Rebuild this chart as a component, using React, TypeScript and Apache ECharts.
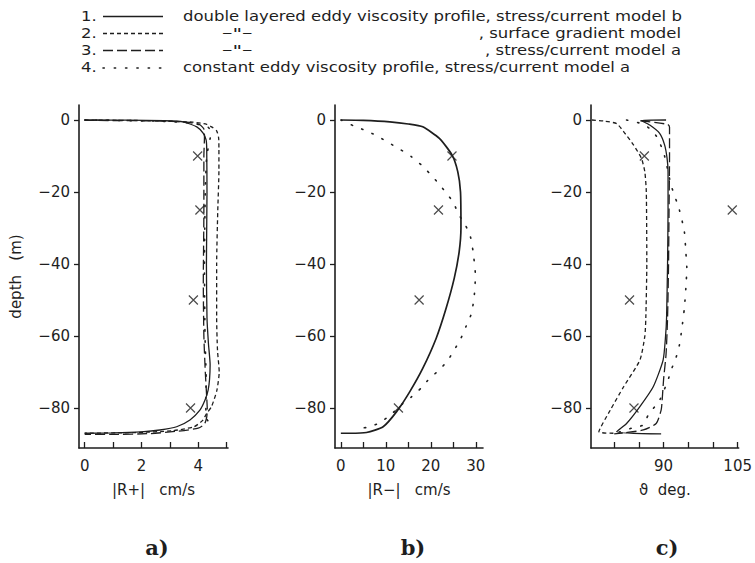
import React, { useEffect, useRef } from "react";
import * as echarts from "echarts";

// ---- observations (crosses) ----
const obsDepth = [-10, -25, -50, -80];
const obsA = [3.98, 4.06, 3.83, 3.73];
const obsB = [24.7, 21.7, 17.4, 12.8];
const obsC = [86.1, 103.9, 83.1, 84.0];

// ---- panel a: |R+| (cm/s), depth (m) ----
const a1 = [[0,0],[1.5,-0.05],[2.8,-0.2],[3.47,-0.5],[3.95,-1.9],[4.18,-3.7],[4.28,-5.6],[4.3,-8],[4.31,-20],[4.29,-40],[4.31,-55],[4.36,-62],[4.42,-68],[4.4,-72],[4.35,-75],[4.24,-77.8],[4.06,-80.6],[3.71,-83.3],[3.24,-85.2],[2.65,-86.1],[2.0,-86.6],[1.0,-86.9],[0,-87]];
const a2 = [[0,0],[2.5,-0.2],[3.8,-0.6],[4.3,-1.2],[4.47,-1.9],[4.65,-3],[4.72,-5],[4.73,-8],[4.73,-14],[4.69,-25],[4.65,-40],[4.65,-55],[4.68,-64],[4.74,-70],[4.66,-75],[4.47,-79.6],[4.3,-81.5],[4.15,-83.5],[3.85,-85.2],[3.1,-86.3],[1.8,-86.8],[0,-87]];
const a3 = [[0,-0.1],[2.5,-0.25],[3.6,-0.6],[4.05,-1.3],[4.2,-2.5],[4.22,-5],[4.2,-10],[4.2,-25],[4.18,-45],[4.2,-60],[4.25,-70],[4.3,-77],[4.32,-80.5],[4.3,-82.5],[4.22,-84.5],[4.0,-85.6],[3.3,-86.4],[2.3,-87.1],[1.0,-87.3],[0,-87.3]];
const a4 = [[0,0],[2.5,-0.3],[3.8,-0.9],[4.35,-2],[4.45,-3.5],[4.4,-6],[4.3,-10],[4.25,-20],[4.22,-40],[4.24,-60],[4.28,-72],[4.27,-80],[4.3,-83],[4.47,-84.7],[4.6,-85.4]];

// ---- panel b: |R-| (cm/s), depth (m) ----
const b1 = [[0,0],[5,-0.1],[10.9,-0.5],[15,-1.1],[18.2,-1.9],[21.9,-5.1],[24.7,-9.7],[26,-14.4],[26.6,-20],[26.7,-30],[26.3,-36.6],[25.2,-44],[23.4,-52.3],[21.2,-60.6],[18.2,-69],[15.3,-75.5],[12.4,-81],[9.4,-85.2],[5.7,-86.8],[2,-87],[0,-87]];
const b4 = [[0,0],[2.8,-1.6],[5.7,-3],[8.3,-4.6],[10.9,-6.5],[13.1,-8.1],[15.7,-10.2],[17.9,-12.5],[19.7,-14.8],[21.5,-17.3],[23.4,-20.2],[24.9,-22.7],[26.3,-26.4],[27.7,-29.2],[28.8,-32.4],[29.4,-36.6],[29.9,-43],[29.8,-46.8],[29.5,-50.5],[28.9,-54.2],[27.8,-57.4],[26.7,-60.6],[25.2,-63.9],[23.8,-66.7],[21.9,-69.4],[19.7,-71.8],[17.9,-74.4],[15.7,-76.9],[13.5,-79],[10.9,-82.1],[8.3,-84.3],[5.7,-85.4],[3.5,-85.7]];

// ---- panel c: theta (deg), depth (m) ----
const c1 = [[90.5,0],[85.5,-0.15],[87.2,-1.4],[89.2,-3.7],[90.2,-6.9],[90.7,-10.6],[90.9,-14.4],[90.9,-25],[90.8,-40],[90.6,-55],[90.4,-60],[89.9,-66.7],[87.9,-74.1],[85.2,-79.6],[82.5,-84.3],[80.5,-86.6],[89.5,-87.2]];
const c2 = [[75.5,0],[78,-0.3],[80.5,-1],[81.9,-3.2],[83.9,-6.9],[85.5,-10.6],[86.2,-14.4],[86.5,-20],[86.6,-40],[86.4,-55],[86.2,-60],[85.2,-66.7],[81.9,-74.1],[79.2,-80.6],[76.9,-86.6],[80,-87]];
const c3 = [[85.3,-0.2],[90.8,-1.2],[91.2,-2],[91.2,-10],[91.1,-25],[91.0,-40],[90.8,-55],[90.5,-65],[90.0,-72],[89.7,-78],[89.5,-80.6],[88.5,-84.3],[85.9,-86.1],[81.9,-86.9],[80,-87.2]];
const c4 = [[82.5,0],[86,-1.2],[87.5,-2.8],[88.8,-5],[90.2,-10],[91.5,-18],[93.2,-25],[94.2,-31],[94.5,-36.6],[94.7,-41.2],[94.5,-46.8],[94.2,-52.3],[93.7,-57.9],[93.2,-62.5],[92.4,-66.5],[91.5,-69.5],[90.9,-72.2],[89.2,-77.8],[86.9,-81.9],[85.9,-84.7],[83.5,-85.6],[81.2,-86.6],[79.2,-86.9]];

// ---- axes ----
const depthTicks = [0, -20, -40, -60, -80];
const ticksA = [0, 1, 2, 3, 4, 5];
const labelsA = [0, 2, 4];
const ticksB = [0, 5, 10, 15, 20, 25, 30];
const labelsB = [0, 10, 20, 30];
const ticksC = [80, 85, 90, 95, 100, 105];
const labelsC = [90, 105];
const xNames = ["|R+|   cm/s", "|R−|   cm/s", "ϑ  deg."];
const yName = "depth   (m)";
const panelTags = ["a)", "b)", "c)"];

const legendNums = ["1.", "2.", "3.", "4."];
const legendLeft = ["double layered eddy viscosity profile, stress/current model b", "–\"–", "–\"–", "constant eddy viscosity profile, stress/current model a"];
const legendRight = ["", ", surface gradient model", ", stress/current model a", ""];

const INK = "#1e1e1e";
const FONT = "DejaVu Sans";
const DASH: Record<string, any> = {
  solid: "solid",
  short: [4, 3],
  long: [10, 4],
  dot: [1.3, 10],
};

export default function App() {
  const ref = useRef<HTMLDivElement>(null);
  useEffect(() => {
    if (!ref.current) return;
    const chart = echarts.init(ref.current, null, { renderer: "svg" });
    const grids = [
      { left: 79, top: 105, width: 149, height: 343 },
      { left: 335, top: 105, width: 148, height: 343 },
      { left: 591, top: 105, width: 149, height: 343 },
    ];
    const xr = [
      { min: -0.2, max: 5.05, ticks: ticksA, labels: labelsA },
      { min: -1.3, max: 31.6, ticks: ticksB, labels: labelsB },
      { min: 75.3, max: 105.2, ticks: ticksC, labels: labelsC },
    ];
    const fmt = (v: number) => (v < 0 ? "−" + Math.abs(v) : String(v));
    const xAxis = xr.map((r, i) => ({
      type: "value",
      gridIndex: i,
      min: r.min,
      max: r.max,
      name: xNames[i],
      nameLocation: "middle",
      nameGap: 34,
      nameTextStyle: { fontFamily: FONT, fontSize: 15, color: INK },
      axisLine: { show: true, onZero: false, lineStyle: { color: INK, width: 1.6 } },
      axisTick: { show: true, inside: true, length: 6, customValues: r.ticks, lineStyle: { color: INK, width: 1.3 } },
      axisLabel: { customValues: r.labels, formatter: fmt, fontFamily: FONT, fontSize: 15, color: INK, margin: 10 },
      splitLine: { show: false },
    }));
    const yAxis = [0, 1, 2].map((i) => ({
      type: "value",
      gridIndex: i,
      min: -91.1,
      max: 4.17,
      name: i === 0 ? yName : "",
      nameLocation: "middle",
      nameRotate: 90,
      nameGap: 56,
      nameTextStyle: { fontFamily: FONT, fontSize: 15, color: INK },
      axisLine: { show: true, onZero: false, lineStyle: { color: INK, width: 1.6 } },
      axisTick: { show: true, inside: false, length: 5, customValues: depthTicks, lineStyle: { color: INK, width: 1.3 } },
      axisLabel: { customValues: depthTicks, formatter: fmt, fontFamily: FONT, fontSize: 15, color: INK, margin: 9 },
      splitLine: { show: false },
    }));
    const line = (i: number, data: number[][], kind: string, w = 1.3) => ({
      type: "line",
      xAxisIndex: i,
      yAxisIndex: i,
      data,
      showSymbol: false,
      symbol: "none",
      smooth: 0.2,
      silent: true,
      lineStyle: { color: INK, width: kind === "dot" ? 1.6 : w, type: DASH[kind], cap: kind === "dot" ? "round" : "butt" },
    });
    const cross = (i: number, xs: number[]) => ({
      type: "scatter",
      xAxisIndex: i,
      yAxisIndex: i,
      data: xs.map((x, k) => [x, obsDepth[k]]),
      symbol: "path://M0,0L10,10M10,0L0,10",
      symbolSize: 9,
      itemStyle: { color: "none", borderColor: INK, borderWidth: 1.2 },
      silent: true,
    });
    const series = [
      line(0, a3, "long"), line(0, a4, "dot"), line(0, a2, "short"), line(0, a1, "solid"), cross(0, obsA),
      line(1, b4, "dot"), line(1, b1, "solid", 1.7), cross(1, obsB),
      line(2, c3, "long"), line(2, c4, "dot"), line(2, c2, "short"), line(2, c1, "solid"), cross(2, obsC),
    ];
    const graphic: any[] = [];
    const rowY = [16.5, 33.5, 50.5, 68];
    const kinds = ["solid", "short", "long", "dot"];
    const SX = 1.22;
    const legFont = `13.5px "${FONT}"`;
    rowY.forEach((y, k) => {
      graphic.push({ type: "text", x: 81, y, scaleX: SX, style: { text: legendNums[k], font: legFont, fill: INK, verticalAlign: "middle" } });
      graphic.push({
        type: "line",
        shape: { x1: 103, y1: y, x2: 163, y2: y },
        style: { stroke: INK, lineWidth: kinds[k] === "dot" ? 1.6 : 1.3, lineDash: kinds[k] === "solid" ? null : DASH[kinds[k]], lineCap: kinds[k] === "dot" ? "round" : "butt" },
      });
      const ditto = k === 1 || k === 2;
      graphic.push({ type: "text", x: ditto ? 222 : 183, y, scaleX: ditto ? 1.55 : SX, style: { text: legendLeft[k], font: legFont, fill: INK, verticalAlign: "middle" } });
      if (legendRight[k]) {
        graphic.push({ type: "text", x: 681, y, scaleX: SX, style: { text: legendRight[k], font: legFont, fill: INK, align: "right", verticalAlign: "middle" } });
      }
    });
    const tagX = [157, 413, 667];
    tagX.forEach((x, i) => {
      graphic.push({ type: "text", x, y: 547, style: { text: panelTags[i], font: `bold 21px "DejaVu Serif"`, fill: INK, align: "center", verticalAlign: "middle" } });
    });
    chart.setOption({
      animation: false,
      backgroundColor: "#ffffff",
      grid: grids,
      xAxis,
      yAxis,
      series,
      graphic,
    });
    return () => chart.dispose();
  }, []);
  return <div ref={ref} style={{ position: "fixed", left: 0, top: 0, width: 755, height: 563 }} />;
}
